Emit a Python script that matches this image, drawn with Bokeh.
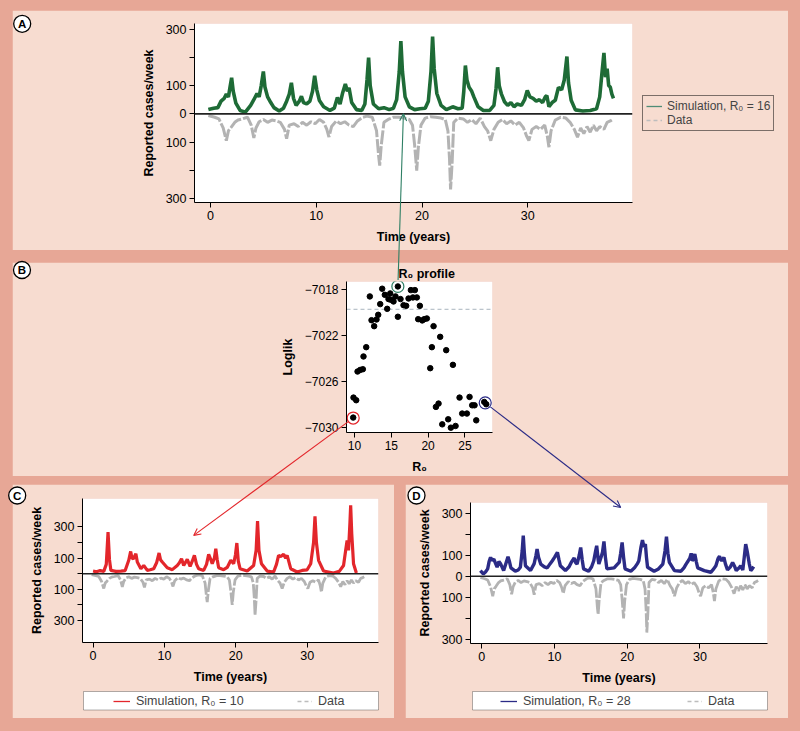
import math
from bokeh.plotting import figure
from bokeh.models import (Span, Legend, LegendItem, Arrow, OpenHead, FixedTicker, Range1d,
                          GlobalInlineStyleSheet, BoxAnnotation)
from bokeh.core.properties import value
from bokeh.embed import file_html
from bokeh.resources import INLINE

PANEL = "#F7DCD0"
EDGE = "#E7A796"
FONT = "Liberation Sans"
GREEN = "#1E6B36"
TEAL = "#2E7F64"
RED = "#E3262B"
BLUE = "#2B2B86"
GREY = "#B3B3B3"

# ---------------- data ----------------
# observed weekly cases (shared by A, C, D), plotted downwards
obs_t = [-0.2, 0.4, 0.8, 1.2, 1.5, 1.7, 1.95, 2.3, 2.6, 3.0, 3.5, 3.85, 4.1, 4.3, 4.6, 5.0, 5.4, 5.8,
         6.2, 6.6, 7.0, 7.2, 7.45, 7.9, 8.3, 8.7, 9.1, 9.5, 9.9, 10.3, 10.7, 11.0, 11.2, 11.45, 11.9,
         12.3, 12.7, 13.1, 13.5, 13.9, 14.4, 14.8, 15.3, 15.7, 15.9, 16.0, 16.15, 16.4, 16.8, 17.3,
         17.8, 18.3, 18.8, 19.1, 19.3, 19.5, 19.65, 19.9, 20.3, 20.8, 21.3, 21.8, 22.2, 22.45, 22.6,
         22.7, 22.85, 23.0, 23.4, 23.9, 24.3, 24.7, 25.1, 25.5, 25.9, 26.2, 26.5, 26.8, 27.2, 27.6,
         28.0, 28.4, 28.8, 29.2, 29.6, 29.9, 30.1, 30.4, 30.8, 31.2, 31.6, 31.85, 32.0, 32.2, 32.6,
         33.1, 33.6, 34.0, 34.4, 34.7, 35.0, 35.3, 35.6, 35.9, 36.2, 36.5, 36.8, 37.2, 37.5, 37.8, 38.0]
obs_v = [6, 12, 18, 50, 95, 60, 48, 30, 22, 18, 12, 40, 85, 50, 28, 20, 30, 22,
         25, 30, 55, 88, 40, 35, 45, 30, 40, 28, 35, 20, 30, 55, 82, 45, 25,
         35, 28, 40, 45, 25, 12, 8, 12, 60, 150, 183, 110, 30, 20, 12,
         12, 15, 20, 40, 110, 201, 120, 40, 15, 10, 12, 15, 20, 60, 160,
         268, 170, 30, 15, 18, 30, 20, 35, 15, 45, 60, 95, 55, 30, 20,
         35, 25, 40, 30, 50, 80, 95, 55, 45, 55, 40, 80, 118, 60, 22,
         12, 15, 30, 55, 83, 50, 70, 45, 65, 40, 60, 45, 55, 30, 25, 20]

# simulation R0 = 16 (panel A)
sim16_t = [-0.2, 0.3, 0.7, 1.0, 1.3, 1.5, 1.7, 1.85, 2.0, 2.15, 2.4, 2.8, 3.3, 3.8, 4.1, 4.4, 4.6, 4.8,
           5.0, 5.15, 5.4, 5.7, 6.0, 6.5, 6.9, 7.2, 7.45, 7.65, 7.85, 8.1, 8.4, 8.6, 8.8, 9.1, 9.4,
           9.65, 9.85, 10.05, 10.3, 10.7, 11.3, 11.7, 12.0, 12.25, 12.5, 12.75, 12.95, 13.1, 13.35,
           13.8, 14.3, 14.6, 14.8, 14.95, 15.1, 15.4, 15.9, 16.4, 16.9, 17.3, 17.6, 17.85, 18.0, 18.15,
           18.4, 18.8, 19.3, 19.8, 20.3, 20.6, 20.85, 21.0, 21.15, 21.4, 21.8, 22.3, 22.9, 23.4, 23.8,
           23.95, 24.1, 24.25, 24.45, 24.7, 24.9, 25.3, 25.8, 26.4, 26.8, 27.0, 27.15, 27.3, 27.5,
           27.8, 28.1, 28.4, 28.7, 29.0, 29.4, 29.7, 29.95, 30.2, 30.5, 30.8, 31.1, 31.4, 31.65,
           31.8, 32.0, 32.3, 32.6, 32.9, 33.2, 33.45, 33.7, 33.85, 34.1, 34.5, 35.2, 35.9, 36.5,
           36.8, 37.0, 37.2, 37.35, 37.5, 37.65, 37.8, 37.95, 38.1]
sim16_v = [15, 20, 22, 45, 55, 70, 60, 95, 128, 80, 38, 12, 6, 30, 50, 72, 60, 100,
           150, 95, 60, 40, 22, 10, 20, 45, 70, 110, 55, 30, 45, 62, 40, 35, 45,
           80, 135, 85, 47, 25, 12, 20, 58, 35, 75, 106, 80, 92, 40,
           15, 12, 35, 120, 199, 100, 35, 18, 22, 15, 20, 50, 150, 258, 150,
           60, 25, 15, 18, 20, 45, 150, 274, 160, 72, 30, 15, 25, 18, 20,
           80, 171, 120, 94, 80, 60, 25, 12, 12, 30, 90, 165, 100, 71,
           43, 30, 40, 25, 35, 30, 50, 83, 60, 55, 45, 50, 40, 60,
           65, 25, 40, 48, 94, 85, 120, 203, 110, 48, 14, 10, 12, 18,
           60, 140, 216, 130, 160, 100, 95, 70, 55]

# simulation R0 = 10 (panel C)
sim10_t = [0.0, 0.5, 1.0, 1.5, 1.85, 2.1, 2.3, 2.5, 3.2, 3.9, 4.5, 5.0, 5.27, 5.45, 5.65, 6.0, 6.2,
           6.7, 7.1, 7.6, 8.0, 8.5, 8.9, 9.25, 9.45, 9.7, 10.4, 11.1, 11.8, 12.1, 12.4, 12.7, 13.2,
           13.6, 13.9, 14.2, 14.5, 14.8, 15.5, 15.9, 16.2, 16.5, 16.7, 17.0, 17.2, 17.4, 17.6, 18.3,
           18.8, 19.3, 19.7, 19.95, 20.15, 20.35, 20.6, 21.6, 22.5, 22.85, 23.05, 23.25, 23.6, 24.4,
           25.3, 25.7, 26.0, 26.3, 26.7, 27.0, 27.2, 27.7, 28.6, 29.3, 30.0, 30.5, 30.9, 31.1, 31.3,
           31.6, 32.3, 33.7, 34.5, 35.1, 35.4, 35.6, 35.8, 36.0, 36.1, 36.25, 36.5, 36.9]
sim10_v = [17, 12, 20, 15, 60, 268, 90, 21, 15, 17, 20, 86, 143, 100, 96, 128, 75,
           32, 53, 21, 25, 32, 70, 133, 90, 75, 38, 26, 53, 70, 96, 53, 92,
           47, 80, 118, 60, 32, 21, 60, 124, 90, 64, 100, 160, 90, 38, 26,
           40, 86, 64, 120, 197, 80, 32, 17, 53, 150, 338, 150, 64, 17,
           11, 60, 118, 110, 124, 100, 118, 32, 11, 21, 25, 64, 200, 368, 200,
           86, 17, 4, 15, 53, 150, 214, 150, 330, 439, 257, 64, 4]

# simulation R0 = 28 (panel D)
sim28_t = [-0.2, 0.2, 0.5, 0.8, 1.0, 1.2, 1.4, 1.65, 1.9, 2.1, 2.35, 2.6, 3.0, 3.3, 3.6, 3.8, 4.0,
           4.6, 5.0, 5.3, 5.55, 5.7, 5.85, 6.0, 6.7, 7.2, 7.45, 7.6, 7.8, 8.1, 8.6, 9.0, 9.4, 9.7,
           10.0, 10.4, 10.6, 10.8, 11.5, 12.0, 12.3, 12.7, 12.9, 13.1, 13.4, 13.6, 13.8, 14.0, 14.7,
           15.1, 15.4, 15.65, 15.8, 16.0, 16.1, 16.4, 16.6, 16.8, 17.0, 17.2, 18.2, 18.6, 18.9, 19.1,
           19.3, 19.5, 19.7, 20.5, 21.0, 21.4, 21.6, 21.9, 22.1, 22.3, 22.5, 22.65, 22.8, 23.7, 24.3,
           24.9, 25.2, 25.4, 25.6, 25.8, 26.5, 27.4, 27.8, 28.1, 28.4, 28.6, 28.8, 28.95, 29.1, 29.3,
           29.5, 29.7, 30.6, 31.5, 31.9, 32.2, 32.5, 32.7, 32.85, 33.0, 33.3, 33.5, 33.8, 34.2, 34.5,
           34.8, 35.0, 35.4, 35.6, 35.9, 36.1, 36.3, 36.5, 36.8, 37.0, 37.2, 37.4]
sim28_v = [27, 11, 20, 35, 70, 90, 75, 82, 60, 43, 70, 58, 27, 60, 93, 70, 40,
           24, 30, 43, 120, 193, 110, 50, 27, 60, 100, 130, 90, 58, 45, 40, 60, 74,
           90, 114, 80, 50, 27, 45, 66, 87, 65, 58, 100, 137, 80, 35, 24,
           45, 74, 120, 145, 80, 58, 90, 114, 166, 90, 35, 40, 55, 66, 110,
           161, 90, 35, 24, 40, 60, 74, 140, 172, 140, 153, 90, 43, 24, 35,
           58, 120, 188, 110, 66, 27, 24, 40, 58, 74, 85, 109, 74, 80, 106,
           70, 40, 27, 19, 35, 50, 85, 95, 80, 74, 90, 60, 30, 45, 66,
           45, 27, 40, 50, 30, 90, 153, 120, 58, 27, 35, 46]

# R0 profile (panel B)
prof_r0 = [9.82, 9.86, 10.23, 10.41, 10.77, 11.13, 11.22, 11.59, 12.08, 12.31, 12.67, 12.99, 13.22,
           13.49, 13.76, 14.12, 14.44, 14.62, 14.85, 14.94, 15.30, 15.57, 15.89, 15.89, 16.25, 16.66,
           17.02, 17.34, 17.66, 17.93, 18.20, 18.47, 18.88, 18.65, 19.20, 19.47, 19.83, 20.29, 20.51,
           20.74, 21.06, 21.42, 21.64, 21.92, 22.46, 22.73, 23.09, 23.37, 23.73, 24.27, 24.63, 25.27,
           25.63, 25.99, 26.31, 26.54, 27.63, 27.90]
prof_ll = [-7029.13, -7027.39, -7027.62, -7025.12, -7024.98, -7024.92, -7023.81, -7023.00, -7018.58,
           -7020.65, -7021.17, -7020.59, -7020.18, -7019.25, -7017.91, -7018.44, -7019.66, -7018.81,
           -7018.32, -7018.87, -7019.02, -7018.58, -7020.35, -7017.71, -7018.81, -7019.34, -7019.40,
           -7018.76, -7018.03, -7018.67, -7018.03, -7018.67, -7019.40, -7020.56, -7020.67, -7020.56,
           -7020.50, -7024.83, -7023.00, -7021.17, -7028.20, -7027.91, -7022.10, -7029.72, -7023.26,
           -7029.28, -7030.01, -7024.54, -7029.86, -7027.39, -7028.78, -7028.78, -7027.33, -7028.06,
           -7028.06, -7029.37, -7027.77, -7027.97]
ci_level = -7019.7
hl_r0 = [9.82, 15.89, 27.76]          # circled runs: R0 = 10, 16, 28
hl_ll = [-7029.17, -7017.71, -7027.85]
hl_col = [RED, TEAL, BLUE]
hl_panel = ["C", "A", "D"]            # panel each circled run points to
hl_target = [(14.1, 246.0), (18.24, 0.0), (19.1, 327.0)]  # arrow tips in that panel's data

ts_yticks = [-300, -200, -100, 0, 100, 200, 300]
ts_xticks = [0, 10, 20, 30]
panel_letters = ["A", "B", "C", "D"]

# ---------------- geometry (page pixels) ----------------
GEOM = {
    #      left top   w    h    bl   br   bt  bb   x range           y range
    "A": (12, 10, 776, 240, 182, 156, 13, 48, (-1.51, 39.9), (-314, 320)),
    "B": (12, 262, 776, 214, 334, 296, 19, 44, (8.91, 28.75), (-7030.43, -7017.28)),
    "C": (12, 484, 382, 234, 70, 16, 14, 76, (-1.48, 40.0), (-442, 483)),
    "D": (405, 484, 383, 234, 65, 21, 18, 75, (-1.56, 39.3), (-320, 351)),
}
OV_W, OV_H = 792, 725


def to_page(key, x, y):
    L0, T0, w, h, bl, br, bt, bb, xr, yr = GEOM[key]
    fl, fr, ft, fb = L0 + bl, L0 + w - br, T0 + bt, T0 + h - bb
    px = fl + (x - xr[0]) / (xr[1] - xr[0]) * (fr - fl)
    py = fb - (y - yr[0]) / (yr[1] - yr[0]) * (fb - ft)
    return px, py


def base_fig(key):
    L0, T0, w, h, bl, br, bt, bb, xr, yr = GEOM[key]
    p = figure(width=w, height=h, min_border_left=bl, min_border_right=br,
               min_border_top=bt, min_border_bottom=bb, x_range=Range1d(*xr),
               y_range=Range1d(*yr), output_backend="svg", toolbar_location=None,
               background_fill_color="white", border_fill_color=PANEL,
               outline_line_color=None,
               styles={"position": "absolute", "left": "%dpx" % L0, "top": "%dpx" % T0,
                       "z-index": "1"})
    return p


def style(p, tick_fs="12px"):
    p.grid.visible = False
    for ax in p.axis:
        ax.axis_line_color = "black"
        ax.axis_line_width = 1
        ax.major_tick_line_color = "black"
        ax.minor_tick_line_color = None
        ax.major_tick_out = 5
        ax.major_tick_in = 0
        ax.major_label_standoff = 3
        ax.major_label_text_font = FONT
        ax.major_label_text_font_size = tick_fs
        ax.major_label_text_color = "black"
        ax.axis_label_text_font = FONT
        ax.axis_label_text_font_style = "bold"
        ax.axis_label_text_font_size = "12.5px"
        ax.axis_label_text_color = "black"
        ax.axis_label_standoff = 7


def ts_fig(key, show_zero):
    p = base_fig(key)
    p.xaxis.ticker = FixedTicker(ticks=ts_xticks)
    p.yaxis.ticker = FixedTicker(ticks=ts_yticks)
    p.yaxis.major_label_overrides = {-300: "300", -200: "", -100: "100",
                                     0: "0" if show_zero else "", 100: "100",
                                     200: "", 300: "300"}
    p.xaxis.axis_label = "Time (years)"
    p.yaxis.axis_label = "Reported cases/week"
    style(p, "12.5px")
    return p


neg_obs = [-v for v in obs_v]
DATA_DASH = "14 2"

# ---------------- panel A ----------------
pa = ts_fig("A", True)
pa.line(obs_t, neg_obs, line_color=GREY, line_width=3, line_dash=DATA_DASH)
pa.line(sim16_t, sim16_v, line_color=GREEN, line_width=3.6)
pa.add_layout(Span(location=0, dimension="width", line_color="#222222", line_width=1.6))

# ---------------- panel B ----------------
pb = base_fig("B")
pb.xaxis.ticker = FixedTicker(ticks=[10, 15, 20, 25])
pb.yaxis.ticker = FixedTicker(ticks=[-7018, -7022, -7026, -7030])
pb.xaxis.axis_label = "R\u2080"
pb.yaxis.axis_label = "Loglik"
style(pb, "12px")
pb.title.text = "R\u2080 profile"
pb.title.align = "left"
pb.title.offset = 52
pb.title.standoff = 2
pb.title.text_font = FONT
pb.title.text_font_style = "bold"
pb.title.text_font_size = "12.5px"
pb.title.text_color = "black"
pb.add_layout(Span(location=ci_level, dimension="width", line_color="#A9B4BE",
                   line_width=1, line_dash="4 3", level="underlay"))
pb.scatter(prof_r0, prof_ll, size=5.5, color="black")
pb.scatter(hl_r0, hl_ll, size=12, fill_color=None, line_color=hl_col, line_width=1.2)

# ---------------- panel C ----------------
pc = ts_fig("C", False)
pc.line(obs_t, neg_obs, line_color=GREY, line_width=2.8, line_dash=DATA_DASH)
pc.line(sim10_t, sim10_v, line_color=RED, line_width=3.2)
pc.add_layout(Span(location=0, dimension="width", line_color="#222222", line_width=1.5))

# ---------------- panel D ----------------
pd_ = ts_fig("D", True)
pd_.line(obs_t, neg_obs, line_color=GREY, line_width=2.8, line_dash=DATA_DASH)
pd_.line(sim28_t, sim28_v, line_color=BLUE, line_width=3.4)
pd_.add_layout(Span(location=0, dimension="width", line_color="#222222", line_width=1.5))

# ---------------- overlay: arrows, panel letters, legends ----------------
ov = figure(width=OV_W, height=OV_H, x_range=Range1d(0, OV_W), y_range=Range1d(OV_H, 0),
            min_border=0, x_axis_type=None, y_axis_type=None, title=None,
            toolbar_location=None, output_backend="svg", background_fill_alpha=0,
            border_fill_alpha=0, outline_line_color=None,
            styles={"position": "absolute", "left": "0px", "top": "0px", "z-index": "10",
                    "pointer-events": "none"})
ov.grid.visible = False
for r0, ll, col, key, tgt in zip(hl_r0, hl_ll, hl_col, hl_panel, hl_target):
    cx, cy = to_page("B", r0, ll)
    ex, ey = to_page(key, *tgt)
    d = math.hypot(ex - cx, ey - cy)
    sx, sy = cx + 6.5 * (ex - cx) / d, cy + 6.5 * (ey - cy) / d
    ov.add_layout(Arrow(end=OpenHead(size=7, line_color=col, line_width=1.1),
                        x_start=sx, y_start=sy, x_end=ex, y_end=ey,
                        line_color=col, line_width=1.1))

let_x = [21.7, 21.5, 16.7, 416.0]
let_y = [23.3, 269.5, 495.0, 495.0]
ov.scatter(let_x, let_y, size=17, fill_color="white", line_color="black", line_width=1.3)
ov.text(let_x, let_y, text=panel_letters, text_align="center", text_baseline="middle",
        text_font=value(FONT), text_font_style="bold", text_font_size="11.5px",
        text_color="black")

# legend key renderers: the same series drawn mirrored, which falls above the
# overlay's visible area, so only their thin legend glyphs are seen
key16 = ov.line(sim16_t, [-v for v in sim16_v], line_color="#4E8C76", line_width=1.3)
key10 = ov.line(sim10_t, [-v for v in sim10_v], line_color=RED, line_width=1.3)
key28 = ov.line(sim28_t, [-v for v in sim28_v], line_color=BLUE, line_width=1.3)
keyobs = ov.line(obs_t, neg_obs, line_color="#BDBDBD", line_width=1.3, line_dash="4 3")

lega = Legend(items=[LegendItem(label="Simulation, R\u2080 = 16", renderers=[key16]),
                     LegendItem(label="Data", renderers=[keyobs])],
              location=(642, OV_H - 131), border_line_color="black", border_line_width=1,
              background_fill_alpha=0, padding=3, spacing=0, glyph_width=16,
              glyph_height=14, label_height=14, label_standoff=5, margin=0,
              label_text_font=FONT, label_text_font_size="12px")
ov.add_layout(lega)


def key_legend(label, rend, x_left, gw):
    return Legend(items=[LegendItem(label=label, renderers=[rend])],
                  orientation="horizontal", location=(x_left, OV_H - 708),
                  border_line_color=None, background_fill_alpha=0, padding=0,
                  glyph_width=gw, glyph_height=14, label_height=14, label_standoff=6,
                  margin=0, label_text_font=FONT, label_text_font_size="12.5px")


# bottom legend boxes of C and D, then their keys
for box_l, box_r in [(83, 378), (472, 767)]:
    ov.add_layout(BoxAnnotation(left=box_l, right=box_r, top=691, bottom=709.5,
                                fill_color="white", fill_alpha=1, line_color="black",
                                line_width=1))
ov.add_layout(key_legend("Simulation, R\u2080 = 10", key10, 113, 17))
ov.add_layout(key_legend("Data", keyobs, 297, 15))
ov.add_layout(key_legend("Simulation, R\u2080 = 28", key28, 500, 17))
ov.add_layout(key_legend("Data", keyobs, 687, 15))

sheet = GlobalInlineStyleSheet(css="html, body { background-color: %s; }" % EDGE)
pa.stylesheets = [sheet]

open("out.html", "w").write(file_html([pa, pb, pc, pd_, ov], INLINE))
